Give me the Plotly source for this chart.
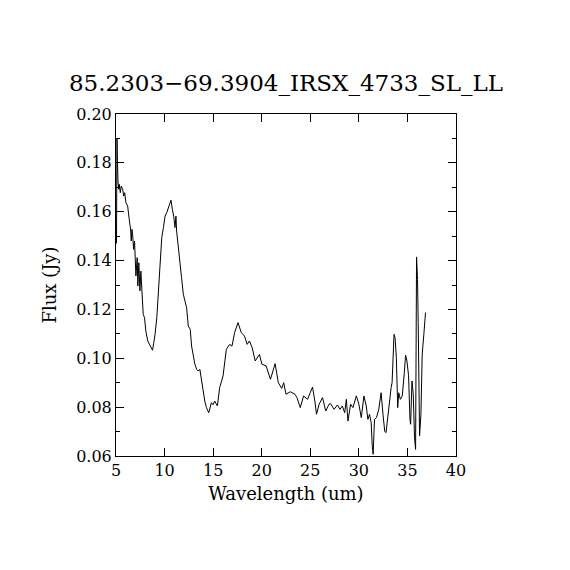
import plotly.graph_objects as go

# spectrum
wavelength = [
    5.05, 5.08, 5.10, 5.12, 5.15, 5.20, 5.28, 5.34, 5.44, 5.54, 5.69, 5.79, 5.89,
    6.02, 6.20, 6.36, 6.50, 6.57, 6.64, 6.71, 6.81, 6.91, 6.98, 7.05, 7.18, 7.25,
    7.35, 7.46, 7.56, 7.66, 7.80, 7.94, 8.07, 8.27, 8.45, 8.61, 8.76, 8.89, 9.02,
    9.20, 9.37, 9.54, 9.71, 9.88, 10.05, 10.22, 10.39, 10.56, 10.66, 10.80, 10.94,
    11.07, 11.17, 11.24, 11.41, 11.58, 11.75, 11.93, 12.09, 12.27, 12.44, 12.64,
    12.78, 12.95, 13.12, 13.30, 13.46, 13.63, 13.80, 14.14, 14.31, 14.55, 14.82,
    15.00, 15.16, 15.44, 15.67, 16.02, 16.36, 16.70, 16.94, 17.21, 17.56, 17.90,
    18.23, 18.50, 18.74, 19.02, 19.33, 19.77, 20.01, 20.45, 20.90, 21.38, 21.71,
    22.06, 22.26, 22.50, 22.94, 23.42, 23.63, 23.97, 24.31, 24.72, 24.99, 25.23,
    25.47, 25.64, 25.91, 26.26, 26.59, 26.93, 27.10, 27.45, 27.79, 28.06, 28.30,
    28.54, 28.71, 28.88, 29.15, 29.39, 29.74, 30.00, 30.25, 30.52, 30.76, 30.93,
    31.10, 31.27, 31.37, 31.47, 31.61, 31.81, 32.05, 32.29, 32.50, 32.67, 32.80,
    33.07, 33.32, 33.42, 33.55, 33.62, 33.73, 33.86, 34.00, 34.10, 34.27, 34.47,
    34.68, 34.81, 34.95, 35.12, 35.26, 35.33, 35.47, 35.60, 35.73, 35.84, 35.94,
    36.04, 36.11, 36.25, 36.39, 36.52, 36.69, 36.86,
]
flux = [
    0.1470, 0.1850, 0.1900, 0.1580, 0.1810, 0.1726, 0.1692, 0.1712, 0.1678, 0.1705,
    0.1692, 0.1664, 0.1678, 0.1637, 0.1623, 0.1569, 0.1528, 0.1480, 0.1528, 0.1508,
    0.1446, 0.1480, 0.1426, 0.1337, 0.1412, 0.1296, 0.1391, 0.1276, 0.1357, 0.1276,
    0.1180, 0.1166, 0.1112, 0.1071, 0.1057, 0.1050, 0.1033, 0.1064, 0.1098, 0.1166,
    0.1289, 0.1412, 0.1494, 0.1535, 0.1582, 0.1596, 0.1616, 0.1630, 0.1647, 0.1610,
    0.1582, 0.1535, 0.1582, 0.1521, 0.1446, 0.1391, 0.1330, 0.1262, 0.1241, 0.1207,
    0.1132, 0.1119, 0.1050, 0.1009, 0.0976, 0.0955, 0.0948, 0.0955, 0.0907, 0.0825,
    0.0798, 0.0777, 0.0818, 0.0810, 0.0825, 0.0805, 0.0880, 0.0928, 0.1037, 0.1057,
    0.1050, 0.1105, 0.1146, 0.1105, 0.1091, 0.1057, 0.1071, 0.1043, 0.0989, 0.1016,
    0.0976, 0.0969, 0.0914, 0.0978, 0.0900, 0.0877, 0.0900, 0.0853, 0.0863, 0.0853,
    0.0839, 0.0798, 0.0846, 0.0832, 0.0859, 0.0882, 0.0825, 0.0771, 0.0812, 0.0839,
    0.0784, 0.0812, 0.0814, 0.0791, 0.0809, 0.0791, 0.0805, 0.0777, 0.0832, 0.0743,
    0.0812, 0.0798, 0.0846, 0.0812, 0.0757, 0.0846, 0.0805, 0.0750, 0.0771, 0.0736,
    0.0645, 0.0607, 0.0750, 0.0757, 0.0791, 0.0859, 0.0764, 0.0700, 0.0696, 0.0805,
    0.0880, 0.0900, 0.1010, 0.1098, 0.1084, 0.1003, 0.0798, 0.0859, 0.0832, 0.0846,
    0.0941, 0.1013, 0.0989, 0.0928, 0.0750, 0.0730, 0.0907, 0.0853, 0.0675, 0.0627,
    0.1415, 0.1323, 0.1146, 0.0682, 0.0771, 0.1017, 0.1098, 0.1187,
]

title_text = "85.2303\u221269.3904_IRSX_4733_SL_LL"
x_ticks = [5, 10, 15, 20, 25, 30, 35, 40]
y_ticks = [0.06, 0.08, 0.10, 0.12, 0.14, 0.16, 0.18, 0.20]

font_name = "DejaVu Serif"

fig = go.Figure()
fig.add_trace(go.Scatter(x=wavelength, y=flux, mode="lines",
                         line=dict(color="black", width=1),
                         hoverinfo="none", showlegend=False))

axis_common = dict(showline=True, linecolor="black", linewidth=1, mirror="ticks",
                   ticks="inside", ticklen=8, tickcolor="black", tickwidth=1,
                   showgrid=False, zeroline=False,
                   tickfont=dict(family=font_name, size=16, color="black"))

fig.update_xaxes(range=[5, 40], tickvals=x_ticks, **axis_common,
                 title=dict(text="Wavelength (um)", standoff=8,
                            font=dict(family=font_name, size=18, color="black")))
fig.update_yaxes(range=[0.06, 0.20], tickvals=y_ticks, tickformat=".2f",
                 minor=dict(dtick=0.01, ticks="inside", ticklen=4, tickcolor="black"),
                 **axis_common,
                 title=dict(text="Flux (Jy)", standoff=14,
                            font=dict(family=font_name, size=18, color="black")))

# the page sits about 7 px down and right, so margins are shifted to compensate
fig.update_layout(
    width=570, height=570,
    margin=dict(l=108, r=122, t=106, b=122),
    paper_bgcolor="white", plot_bgcolor="white",
    title=dict(text=title_text, x=278 / 570, xanchor="center", y=1 - 75 / 570,
               yanchor="middle",
               font=dict(family=font_name, size=23, color="black")),
)

fig.write_html("out.html")
